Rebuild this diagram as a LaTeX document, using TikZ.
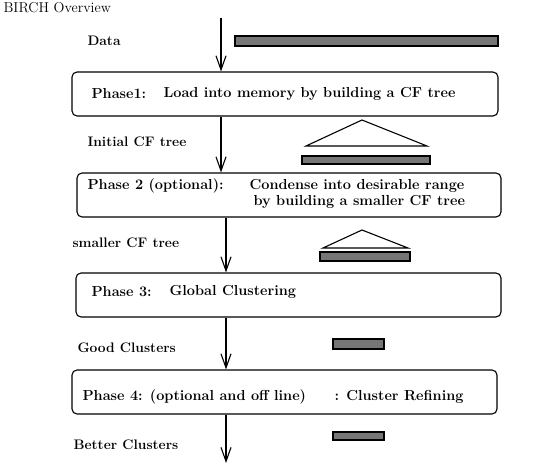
\documentclass[tikz,border=0pt]{standalone}
\usetikzlibrary{arrows.meta, positioning}
\definecolor{bargray}{RGB}{118,118,118}

\begin{document}
\begin{tikzpicture}[x=1pt, y=-1pt, >={Straight Barb[length=14pt,width=10pt]}, line width=1.1pt,
    font=\bfseries\fontsize{14.5}{16}\selectfont]
    \tikzstyle{phase}=[draw, rounded corners=5pt, minimum height=44pt, inner sep=0pt]
    \tikzstyle{flow}=[->]
    \tikzstyle{bar}=[draw, fill=bargray]
    \tikzstyle{lbl}=[anchor=west, inner sep=0pt]
    \tikzstyle{side}=[lbl, font=\bfseries\fontsize{13.8}{16}\selectfont]

    \useasboundingbox (0,0) rectangle (533,473);

    \node[lbl, font=\fontsize{14.3}{16}\selectfont] (title) at (3,8) {BIRCH Overview};

    % phase boxes
    \node[phase, minimum width=426pt] (box1) at (285,94)    {};
    \node[phase, minimum width=424pt] (box2) at (289,195)   {};
    \node[phase, minimum width=425pt] (box3) at (288.5,295) {};
    \node[phase, minimum width=425pt] (box4) at (284.5,392) {};

    \node[lbl] (p1)  at (91,94)   {Phase1:};
    \node[lbl] (t1)  at (163,94)  {Load into memory by building a CF tree};
    \node[lbl] (p2)  at (87,186)  {Phase 2 (optional):};
    \node[lbl] (t2a) at (249,186) {Condense into desirable range};
    \node[lbl] (t2b) at (253,202) {by building a smaller CF tree};
    \node[lbl] (p3)  at (91,292)  {Phase 3:};
    \node[lbl] (t3)  at (169,292) {Global Clustering};
    \node[lbl] (p4)  at (82,397)  {Phase 4: (optional and off line)};
    \node[lbl] (t4)  at (334,397) {: Cluster Refining};

    % data between phases
    \node[side] (data)   at (87,41)  {Data};
    \node[side] (init)   at (87,142) {Initial CF tree};
    \node[side] (small)  at (72,243) {smaller CF tree};
    \node[side] (good)   at (77,348) {Good Clusters};
    \node[side] (better) at (73,445) {Better Clusters};

    \draw[bar] (235,36) rectangle (498,46);
    \draw (306,146) -- (362,120) -- (427,146) -- cycle;
    \draw[bar] (302,156) rectangle (430,164);
    \draw (323,248) -- (362,230) -- (408,248) -- cycle;
    \draw[bar] (320,252) rectangle (410,261);
    \draw[bar] (333,339) rectangle (384,349);
    \draw[bar] (333,432) rectangle (384,440);

    % flow
    \coordinate (in)  at (221,18);
    \coordinate (out) at (226,463);
    \draw[flow] (in) -- (box1.north -| in);
    \draw[flow] (box1.south -| in) -- (box2.north -| in);
    \draw[flow] (box2.south -| out) -- (box3.north -| out);
    \draw[flow] (box3.south -| out) -- (box4.north -| out);
    \draw[flow] (box4.south -| out) -- (out);
\end{tikzpicture}
\end{document}
